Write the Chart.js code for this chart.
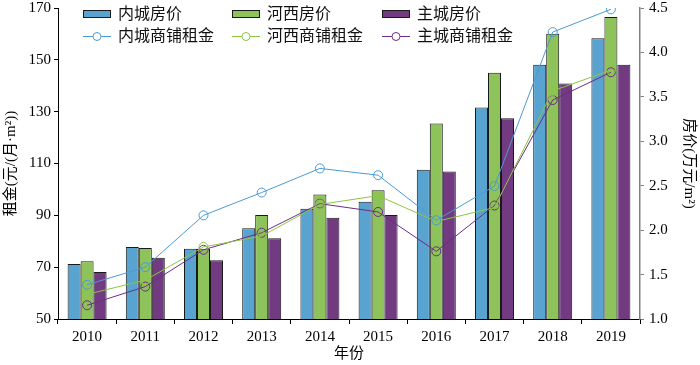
<!DOCTYPE html>
<html>
<head>
<meta charset="utf-8">
<script src="https://cdn.jsdelivr.net/npm/chart.js@4"></script>
<style>
  html, body { margin: 0; padding: 0; background: #fff; }
  #wrap { width: 700px; height: 365px; }
</style>
</head>
<body>
<div id="wrap"><canvas id="c"></canvas></div>
<script>
// ---- data ----
const years = ['2010', '2011', '2012', '2013', '2014', '2015', '2016', '2017', '2018', '2019'];

// 房价 (万元/m²) — right axis
const priceInner = [1.62, 1.81, 1.79, 2.02, 2.24, 2.32, 2.68, 3.38, 3.86, 4.16];
const priceHexi  = [1.65, 1.80, 1.79, 2.17, 2.40, 2.45, 3.20, 3.77, 4.21, 4.40];
const priceMain  = [1.53, 1.69, 1.66, 1.91, 2.14, 2.17, 2.66, 3.26, 3.65, 3.86];

// 商铺租金 (元/(月·m²)) — left axis
const rentInner = [63.2, 70.0, 90.0, 98.8, 108.1, 105.5, 88.1, 101.3, 160.7, 169.5];
const rentHexi  = [59.5, 65.0, 77.8, 82.0, 94.2, 97.6, 87.6, 93.0, 138.0, 146.0];
const rentMain  = [55.3, 62.5, 76.7, 83.3, 94.5, 91.3, 76.1, 93.8, 134.5, 145.2];

const FONT = '"Liberation Serif", "Noto Sans CJK SC", serif';
const BLUE = '#58a3cf', GREEN = '#8dc35a', PURPLE = '#723a80';
const LBLUE = '#4b9ad3', LGREEN = '#8cc640', LPURPLE = '#6b2d86';

function barSet(label, data, color) {
    return {
        type: 'bar', label, data, yAxisID: 'y1', order: 2,
        backgroundColor: color, borderColor: '#1a1a1a', borderWidth: 1,
        categoryPercentage: 0.67, barPercentage: 1.0
    };
}
function lineSet(label, data, color) {
    return {
        type: 'line', label, data, yAxisID: 'y', order: 1,
        borderColor: color, borderWidth: 1, tension: 0,
        pointRadius: 4.5, pointBorderWidth: 1,
        pointBackgroundColor: 'rgba(0,0,0,0)', pointBorderColor: color
    };
}

// vertical axes: fixed width, fixed top gap above the plot
function fitY(width) {
    return s => { s.width = width; s.paddingTop = 8; s.paddingBottom = 0; };
}

// ── legend drawn as 3 columns x 2 rows inside the plot ──
const legendPlugin = {
    id: 'gridLegend',
    afterDraw(chart) {
        const ctx = chart.ctx;
        const ds = chart.data.datasets;
        const cols = [83, 232, 382];
        ctx.save();
        ctx.font = '16px ' + FONT;
        ctx.fillStyle = '#111';
        ctx.textBaseline = 'middle';
        for (let i = 0; i < 3; i++) {
            const b = ds[i], l = ds[i + 3];
            const x = cols[i];
            // bar swatch
            ctx.fillStyle = b.backgroundColor;
            ctx.fillRect(x, 10, 28, 8);
            ctx.strokeStyle = '#1a1a1a';
            ctx.lineWidth = 1;
            ctx.strokeRect(x + 0.5, 10.5, 27, 7);
            ctx.fillStyle = '#111';
            ctx.fillText(b.label, x + 35, 15);
            // line swatch
            ctx.strokeStyle = l.borderColor;
            ctx.beginPath();
            ctx.moveTo(x, 36.5); ctx.lineTo(x + 28, 36.5);
            ctx.stroke();
            ctx.fillStyle = '#fff';
            ctx.beginPath();
            ctx.arc(x + 14, 36.5, 4, 0, Math.PI * 2);
            ctx.fill(); ctx.stroke();
            ctx.fillStyle = '#111';
            ctx.fillText(l.label, x + 35, 37);
        }
        ctx.restore();
    }
};

new Chart(document.getElementById('c'), {
    data: {
        labels: years,
        datasets: [
            barSet('内城房价', priceInner, BLUE),
            barSet('河西房价', priceHexi, GREEN),
            barSet('主城房价', priceMain, PURPLE),
            lineSet('内城商铺租金', rentInner, LBLUE),
            lineSet('河西商铺租金', rentHexi, LGREEN),
            lineSet('主城商铺租金', rentMain, LPURPLE)
        ]
    },
    options: {
        responsive: true,
        maintainAspectRatio: false,
        animation: false,
        layout: { padding: 0, autoPadding: false },
        plugins: { legend: { display: false }, tooltip: { enabled: false } },
        scales: {
            x: {
                offset: true,
                grid: { offset: true, drawOnChartArea: false, drawTicks: true, tickLength: 5, color: '#000' },
                border: { color: '#000', width: 1 },
                ticks: { color: '#000', font: { family: FONT, size: 15 }, padding: 4, maxRotation: 0 },
                title: { display: true, text: '年份', color: '#000', font: { family: FONT, size: 15 }, padding: { top: 0, bottom: 2 } },
                afterFit: s => { s.height = 46; s.paddingLeft = 0; s.paddingRight = 0; }
            },
            y: {
                position: 'left', min: 50, max: 170,
                grid: { drawOnChartArea: false, tickLength: 4, color: '#000' },
                border: { color: '#000', width: 1 },
                ticks: { stepSize: 20, color: '#000', font: { family: FONT, size: 15 }, padding: 3 },
                title: { display: true, text: '租金(元/(月·m²))', color: '#000', font: { family: FONT, size: 15 }, padding: { top: 2, bottom: 0 } },
                afterFit: fitY(58)
            },
            y1: {
                position: 'right', min: 1, max: 4.5,
                grid: { drawOnChartArea: false, tickLength: 4, color: '#808080' },
                border: { color: '#808080', width: 1.5 },
                ticks: { stepSize: 0.5, color: '#000', font: { family: FONT, size: 15 }, padding: 5,
                         callback: v => Number(v).toFixed(1) },
                title: { display: true, text: '房价(万元/m²)', color: '#000', font: { family: FONT, size: 15 }, padding: { top: 2, bottom: 0 } },
                afterFit: fitY(60)
            }
        }
    },
    plugins: [legendPlugin]
});
</script>
</body>
</html>
